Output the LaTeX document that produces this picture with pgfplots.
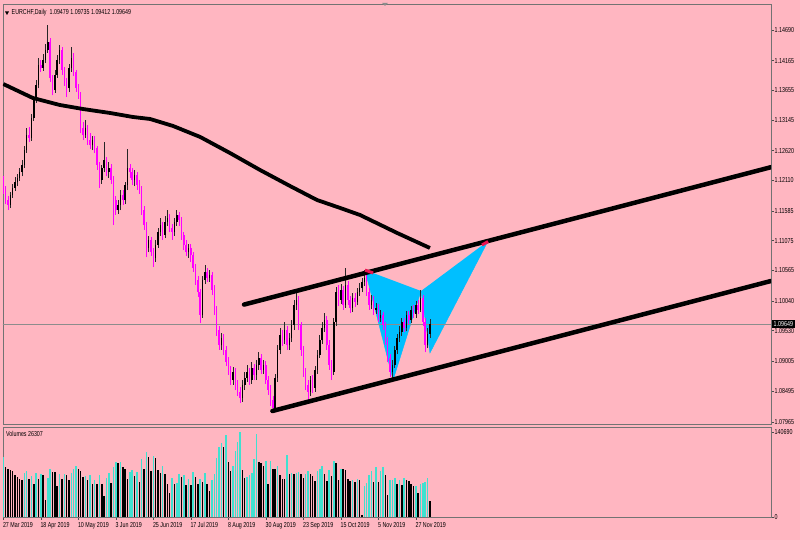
\documentclass[border=0pt]{standalone}
\usepackage{fontspec}
\setmainfont{Liberation Sans}[FakeStretch=0.74]
\usepackage{pgfplots}
\usepackage{pgfplotstable}
\pgfplotsset{compat=1.18}

\definecolor{bgpink}{RGB}{255,182,193}
\definecolor{bearc}{RGB}{255,0,255}
\definecolor{volcyan}{RGB}{64,224,208}
\definecolor{bfly}{RGB}{0,191,255}
\definecolor{redmark}{RGB}{235,20,80}

\pgfplotstableread{
i o h l c
3 1.1169 1.1191 1.1164 1.1186
4 1.1186 1.1205 1.1181 1.1198
5 1.1198 1.1217 1.1193 1.1208
6 1.1208 1.1222 1.1201 1.1215
7 1.1215 1.1232 1.1210 1.1225
8 1.1225 1.1246 1.1218 1.1237
9 1.1237 1.1270 1.1232 1.1263
10 1.1263 1.1301 1.1258 1.1289
12 1.1284 1.1325 1.1279 1.1318
13 1.1318 1.1356 1.1313 1.1349
14 1.1349 1.1383 1.1344 1.1375
15 1.1375 1.1421 1.1369 1.1409
17 1.1404 1.1428 1.1399 1.1418
18 1.1418 1.1445 1.1412 1.1435
19 1.1435 1.1478 1.1430 1.1448
22 1.1366 1.1400 1.1361 1.1392
23 1.1392 1.1426 1.1387 1.1418
24 1.1418 1.1443 1.1411 1.1435
28 1.1369 1.1411 1.1363 1.1404
29 1.1404 1.1440 1.1397 1.1421
35 1.1289 1.1315 1.1284 1.1301
38 1.1272 1.1287 1.1263 1.1280
42 1.1212 1.1237 1.1205 1.1232
43 1.1232 1.1277 1.1225 1.1246
45 1.1225 1.1242 1.1215 1.1232
49 1.1160 1.1177 1.1153 1.1169
50 1.1169 1.1194 1.1160 1.1186
52 1.1177 1.1208 1.1170 1.1203
53 1.1203 1.1265 1.1194 1.1232
56 1.1212 1.1229 1.1201 1.1220
62 1.1095 1.1116 1.1088 1.1109
65 1.1078 1.1109 1.1071 1.1100
66 1.1100 1.1129 1.1095 1.1122
67 1.1122 1.1146 1.1116 1.1134
69 1.1117 1.1150 1.1112 1.1139
70 1.1139 1.1160 1.1133 1.1146
73 1.1122 1.1146 1.1116 1.1139
74 1.1139 1.1160 1.1133 1.1152
79 1.1088 1.1102 1.1078 1.1095
85 1.0980 1.1047 1.0975 1.1040
86 1.1040 1.1066 1.1033 1.1054
88 1.1043 1.1057 1.1037 1.1049
93 1.0928 1.0949 1.0920 1.0940
98 1.0868 1.0891 1.0860 1.0882
102 1.0837 1.0868 1.0831 1.0860
103 1.0860 1.0882 1.0851 1.0872
104 1.0872 1.0894 1.0865 1.0882
106 1.0868 1.0899 1.0862 1.0889
108 1.0877 1.0903 1.0868 1.0894
109 1.0894 1.0916 1.0886 1.0906
111 1.0886 1.0903 1.0879 1.0894
116 1.0820 1.0879 1.0817 1.0872
117 1.0872 1.0928 1.0865 1.0920
118 1.0920 1.0958 1.0913 1.0946
120 1.0937 1.0968 1.0930 1.0954
122 1.0928 1.0949 1.0920 1.0940
123 1.0940 1.0971 1.0934 1.0963
124 1.0963 1.1006 1.0954 1.0997
125 1.0997 1.1018 1.0989 1.1006
131 1.0848 1.0875 1.0841 1.0868
133 1.0855 1.0892 1.0848 1.0886
134 1.0886 1.0920 1.0879 1.0911
135 1.0911 1.0946 1.0906 1.0937
136 1.0937 1.0968 1.0930 1.0958
137 1.0958 1.0983 1.0951 1.0971
141 1.0882 1.0975 1.0877 1.0968
142 1.0968 1.1028 1.0961 1.1019
144 1.1006 1.1033 1.0999 1.1023
146 1.0997 1.1061 1.0992 1.1031
149 1.0992 1.1018 1.0985 1.1009
151 1.1002 1.1026 1.0997 1.1019
152 1.1019 1.1035 1.1013 1.1026
153 1.1026 1.1043 1.1019 1.1037
154 1.1037 1.1057 1.1030 1.1043
157 1.0997 1.1014 1.0990 1.1006
159 1.0989 1.1001 1.0982 1.0992
161 1.0975 1.0989 1.0968 1.0980
166 1.0882 1.0903 1.0868 1.0894
167 1.0894 1.0927 1.0889 1.0920
168 1.0920 1.0947 1.0913 1.0940
169 1.0940 1.0961 1.0934 1.0951
170 1.0951 1.0975 1.0944 1.0968
172 1.0958 1.0987 1.0952 1.0980
174 1.0971 1.0995 1.0966 1.0989
176 1.0982 1.1004 1.0975 1.0997
178 1.0989 1.1023 1.0985 1.1009
181 1.0928 1.0958 1.0923 1.0947
182 1.09479 1.09735 1.09412 1.09649
}\bull

\pgfplotstableread{
i o h l c
0 1.1212 1.1218 1.1188 1.1194
1 1.1194 1.1201 1.1170 1.1177
2 1.1177 1.1184 1.1160 1.1169
11 1.1289 1.1303 1.1277 1.1284
16 1.1409 1.1418 1.1397 1.1404
20 1.1448 1.1455 1.1380 1.1387
21 1.1387 1.1392 1.1357 1.1366
25 1.1435 1.1440 1.1392 1.1400
26 1.1400 1.1406 1.1373 1.1380
27 1.1380 1.1387 1.1354 1.1369
30 1.1421 1.1430 1.1390 1.1397
31 1.1397 1.1400 1.1363 1.1369
32 1.1369 1.1376 1.1351 1.1357
33 1.1357 1.1363 1.1292 1.1301
34 1.1301 1.1311 1.1280 1.1289
36 1.1301 1.1306 1.1272 1.1280
37 1.1280 1.1292 1.1265 1.1272
39 1.1280 1.1287 1.1258 1.1267
40 1.1267 1.1270 1.1229 1.1237
41 1.1237 1.1242 1.1198 1.1212
44 1.1246 1.1251 1.1218 1.1225
46 1.1232 1.1239 1.1205 1.1212
47 1.1212 1.1218 1.1134 1.1177
48 1.1177 1.1184 1.1152 1.1160
51 1.1186 1.1194 1.1169 1.1177
54 1.1232 1.1239 1.1215 1.1225
55 1.1225 1.1232 1.1203 1.1212
57 1.1220 1.1225 1.1194 1.1203
58 1.1203 1.1212 1.1188 1.1194
59 1.1194 1.1201 1.1152 1.1160
60 1.1160 1.1167 1.1126 1.1134
61 1.1134 1.1139 1.1079 1.1095
63 1.1109 1.1114 1.1081 1.1088
64 1.1088 1.1095 1.1062 1.1078
68 1.1134 1.1139 1.1109 1.1117
71 1.1146 1.1153 1.1122 1.1129
72 1.1129 1.1136 1.1109 1.1122
75 1.1152 1.1157 1.1133 1.1143
76 1.1143 1.1148 1.1109 1.1117
77 1.1117 1.1122 1.1091 1.1100
78 1.1100 1.1109 1.1081 1.1088
80 1.1095 1.1102 1.1071 1.1083
81 1.1083 1.1088 1.1054 1.1061
82 1.1061 1.1067 1.1031 1.1040
83 1.1040 1.1047 1.1011 1.1019
84 1.1019 1.1025 1.0966 1.0980
87 1.1054 1.1061 1.1037 1.1043
89 1.1049 1.1054 1.1014 1.1023
90 1.1023 1.1031 1.0980 1.0989
91 1.0989 1.0995 1.0944 1.0954
92 1.0954 1.0961 1.0920 1.0928
94 1.0940 1.0947 1.0911 1.0920
95 1.0920 1.0927 1.0892 1.0899
96 1.0899 1.0908 1.0877 1.0886
97 1.0886 1.0892 1.0860 1.0868
99 1.0882 1.0889 1.0851 1.0860
100 1.0860 1.0868 1.0841 1.0848
101 1.0848 1.0856 1.0829 1.0837
105 1.0882 1.0889 1.0860 1.0868
107 1.0889 1.0896 1.0868 1.0877
110 1.0906 1.0913 1.0879 1.0886
112 1.0894 1.0901 1.0862 1.0868
113 1.0868 1.0875 1.0843 1.0851
114 1.0851 1.0860 1.0824 1.0834
115 1.0834 1.0841 1.0812 1.0820
119 1.0946 1.0954 1.0927 1.0937
121 1.0954 1.0961 1.0920 1.0928
126 1.1006 1.1013 1.0954 1.0963
127 1.0963 1.0968 1.0910 1.0920
128 1.0920 1.0927 1.0874 1.0882
129 1.0882 1.0889 1.0851 1.0860
130 1.0860 1.0868 1.0834 1.0848
132 1.0868 1.0877 1.0846 1.0855
138 1.0971 1.0978 1.0920 1.0928
139 1.0928 1.0937 1.0886 1.0894
140 1.0894 1.0903 1.0868 1.0882
143 1.1019 1.1031 1.0995 1.1006
145 1.1023 1.1030 1.0989 1.0997
147 1.1031 1.1038 1.0997 1.1006
148 1.1006 1.1013 1.0983 1.0992
150 1.1009 1.1018 1.0994 1.1002
155 1.1043 1.1050 1.1013 1.1019
156 1.1019 1.1026 1.0989 1.0997
158 1.1006 1.1013 1.0980 1.0989
160 1.0992 1.0999 1.0968 1.0975
162 1.0980 1.0985 1.0954 1.0963
163 1.0963 1.0968 1.0928 1.0937
164 1.0937 1.0942 1.0899 1.0906
165 1.0906 1.0913 1.0874 1.0882
171 1.0968 1.0975 1.0951 1.0958
173 1.0980 1.0987 1.0964 1.0971
175 1.0989 1.0997 1.0975 1.0982
177 1.0997 1.1006 1.0982 1.0989
179 1.1009 1.1014 1.0961 1.0968
180 1.0968 1.0975 1.0916 1.0928
}\bear

\pgfplotstableread{
i v
0 99800
9 72500
10 76900
12 67100
14 72500
16 71500
19 64900
20 79700
24 71500
26 71500
29 72500
30 79700
31 85100
35 67100
37 68700
39 60500
41 70300
44 64900
45 72500
47 82300
48 91600
50 90500
54 74100
55 78000
57 74100
59 96000
61 108000
64 101400
68 85100
72 64900
74 56200
75 71500
77 70300
79 63300
81 74100
84 63300
86 72500
89 60500
90 71500
91 97600
92 116200
93 123200
95 135800
98 85100
99 109600
100 124800
101 140690
104 66000
105 68700
106 72500
107 96000
108 137900
112 93300
114 93300
117 85100
121 102600
123 72000
125 72500
126 74100
129 71500
130 76900
134 76900
135 79700
136 85100
139 78000
141 93300
144 79700
149 61700
151 63300
154 50700
155 56200
156 70300
157 76900
159 82300
161 75800
162 83400
165 61700
166 62000
167 64900
169 61700
171 64900
176 51500
178 54000
179 56200
180 57800
181 64900
}\volc

\pgfplotstableread{
i v
1 82300
2 79700
3 78000
4 76900
5 70300
6 66000
7 63300
8 60500
11 63300
13 54000
15 63300
17 68700
18 27800
21 74100
22 74100
23 50700
25 63300
27 68700
28 61700
32 79700
33 75800
34 66000
36 60500
38 54000
40 54000
42 54500
43 34400
46 56200
49 88900
51 83400
52 79700
53 63300
56 67100
58 57800
60 79700
62 99800
63 75800
65 97600
66 78000
67 72500
69 71500
70 54500
71 39800
73 54000
76 66000
78 52400
80 52400
82 66000
83 54000
85 57800
87 54000
88 43000
94 115000
96 90500
97 75800
102 78000
103 64900
109 90500
110 88900
111 85100
113 54500
115 79700
116 79700
118 68700
119 63300
120 63300
122 71500
124 71500
127 71500
128 64900
131 71500
132 67100
133 60000
137 71500
138 59400
140 67100
142 88900
143 60500
145 79000
146 78500
147 63300
148 59400
150 57800
152 61700
153 3300
158 57800
160 57800
163 68700
164 36000
168 54000
170 52400
172 60500
173 60000
174 54500
175 50700
177 39800
182 26307
}\volk

\begin{document}
\begin{tikzpicture}
\fill[bgpink] (0pt,0pt) rectangle (800pt,540pt);
\path[use as bounding box] (0pt,0pt) rectangle (800pt,540pt);

\pgfplotsset{
  mtstyle/.style={
    scale only axis,
    anchor=south west,
    xmin=-0.13, xmax=327.5,
    axis line style={draw=black!55, line width=0.8pt},
    tick style={draw=black!70, line width=0.6pt},
    tick align=outside,
    major tick length=3pt,
    scaled y ticks=false,
    scaled x ticks=false,
    tick label style={font=\fontsize{7.2}{8}\selectfont, text=black},
    ytick pos=right,
    yticklabel pos=right,
    yticklabel style={anchor=west, inner sep=0pt, xshift=0.5pt},
  }
}

\begin{axis}[mtstyle,
  at={(3pt,116pt)}, width=768pt, height=420pt,
  ymin=1.07929, ymax=1.15136,
  xtick=\empty,
  ytick={1.07965,1.08495,1.09005,1.09530,1.10040,1.10565,1.11075,1.11585,1.12110,1.12620,1.13145,1.13655,1.14165,1.14690},
  yticklabels={1.07965,1.08495,1.09005,1.09530,1.10040,1.10565,1.11075,1.11585,1.12110,1.12620,1.13145,1.13655,1.14165,1.14690},
]
% butterfly pattern
\addplot[fill=bfly, draw=bfly, line width=0.4pt] coordinates {(154.3,1.10572) (166.3,1.08684) (178.2,1.10211)};
\addplot[fill=bfly, draw=bfly, line width=0.4pt] coordinates {(178.2,1.10211) (182.0,1.09147) (206.8,1.11069)};
% current price line
\addplot[black!45, line width=0.5pt] coordinates {(-1,1.09649) (330,1.09649)};
% candles
\addplot[black!85, line width=0.7pt, quiver={u=0, v=\thisrow{h}-\thisrow{l}}] table[x=i, y=l] {\bull};
\addplot[black, line width=1.5pt, quiver={u=0, v=\thisrow{c}-\thisrow{o}}] table[x=i, y=o] {\bull};
\addplot[bearc, line width=0.7pt, quiver={u=0, v=\thisrow{h}-\thisrow{l}}] table[x=i, y=l] {\bear};
\addplot[bearc, line width=1.5pt, quiver={u=0, v=\thisrow{c}-\thisrow{o}}] table[x=i, y=o] {\bear};
% moving average
\addplot[black, line width=3.8pt, line join=round] coordinates {
(0,1.13763) (12.6,1.13523) (24.1,1.13403) (34,1.13334) (45.5,1.13266) (55.3,1.13197)
(62.6,1.13163) (72.4,1.13043) (84,1.12854) (96.7,1.12579) (109.5,1.12288) (122.3,1.12013)
(133.8,1.11773) (143.7,1.11636) (152.2,1.11515) (168,1.11207) (182,1.10949)};
% channel
\addplot[black, line width=4.5pt, line cap=round] coordinates {(102.7,1.09978) (327.5,1.12336)};
\addplot[black, line width=4.5pt, line cap=round] coordinates {(114.8,1.08152) (327.5,1.10383)};
% red marks
\addplot[redmark, line width=3pt] coordinates {(154.3,1.1057) (157.8,1.1052)};
\addplot[redmark, line width=3pt] coordinates {(204.2,1.1100) (206.8,1.1106)};
\coordinate (cp) at (axis cs:327.5,1.09649);
\end{axis}

\begin{axis}[mtstyle,
  at={(3pt,23pt)}, width=768pt, height=90pt,
  ymin=0, ymax=148900,
  ytick={0,140690}, yticklabels={0,140690},
  xtick={0,16,...,176},
  xticklabels={27 Mar 2019,18 Apr 2019,10 May 2019,3 Jun 2019,25 Jun 2019,17 Jul 2019,8 Aug 2019,30 Aug 2019,23 Sep 2019,15 Oct 2019,5 Nov 2019,27 Nov 2019},
  xtick pos=bottom,
  xticklabel style={anchor=north west, inner sep=0pt, xshift=-0.5pt, yshift=-2.5pt},
]
\addplot[ycomb, volcyan, line width=1.5pt] table[x=i, y=v] {\volc};
\addplot[ycomb, black, line width=1.5pt] table[x=i, y=v] {\volk};
\end{axis}

\node[anchor=west, fill=black, text=white, inner xsep=2pt, inner ysep=1.2pt, font=\fontsize{7.2}{8}\selectfont] at ([xshift=0.5pt]cp) {1.09649};
\fill[black] (5pt,528.5pt) -- (9pt,528.5pt) -- (7pt,525pt) -- cycle;
\node[anchor=west, inner sep=0pt, font=\fontsize{7.2}{8}\selectfont] at (11.5pt,527pt) {EURCHF,Daily\hspace{3pt}1.09479 1.09735 1.09412 1.09649};
\node[anchor=west, inner sep=0pt, font=\fontsize{7.2}{8}\selectfont] at (6pt,106pt) {Volumes 26307};
\fill[black!45] (382pt,537pt) -- (388pt,537pt) -- (385pt,534pt) -- cycle;
\end{tikzpicture}
\end{document}
